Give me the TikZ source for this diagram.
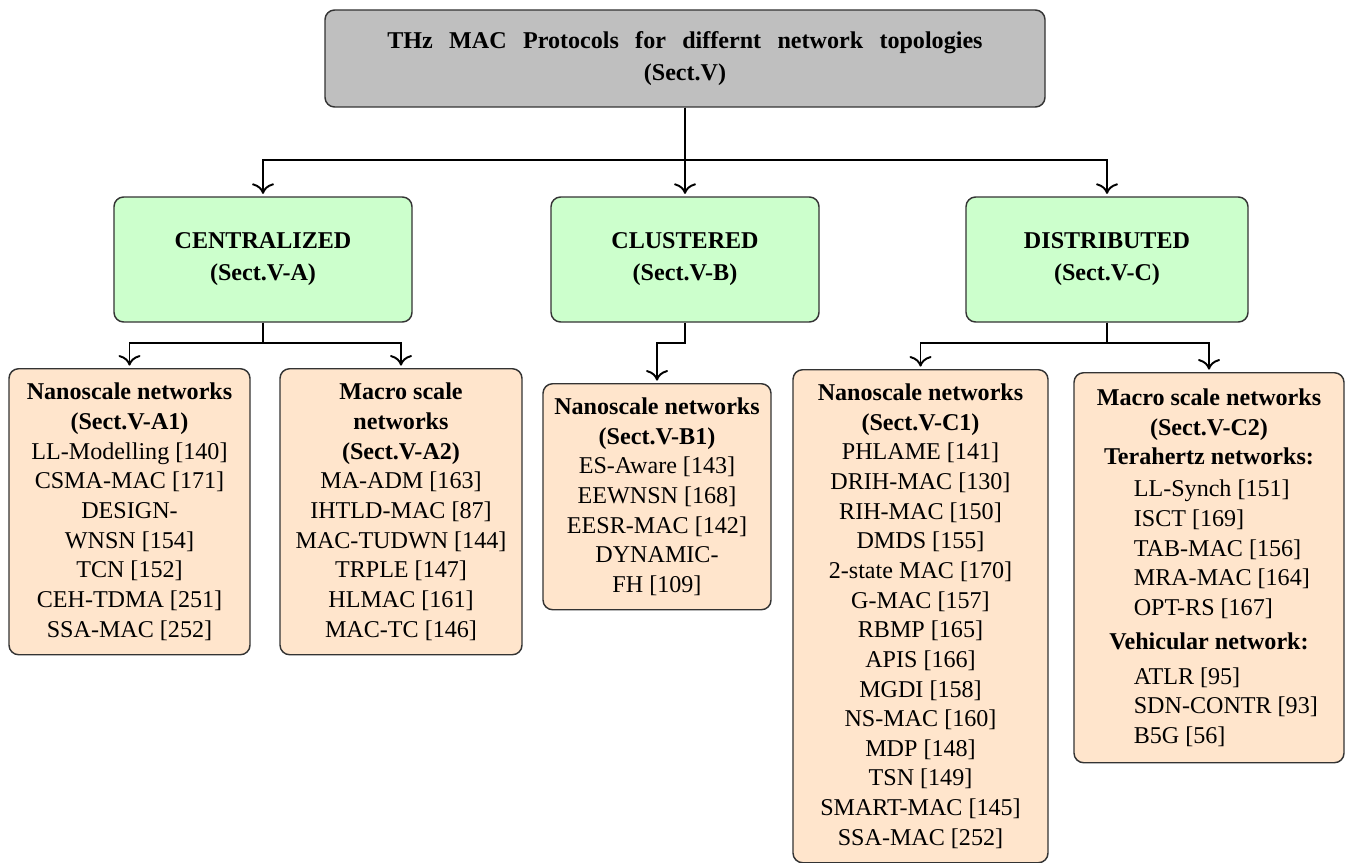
\documentclass[tikz,border=0pt]{standalone}
\usepackage{fontspec}
\setmainfont{Liberation Serif}
\usepackage{tikz}
\usetikzlibrary{arrows.meta}

\newcommand{\pxu}{0.415pt}
\newcommand{\thzitem}[1]{\hspace*{16.6pt}\makebox[79pt][l]{#1}}

\begin{document}
\begin{tikzpicture}[x=\pxu,y=-\pxu,->,>={To[scale=1.3]},shorten >=1pt,thick,
    font=\fontsize{10}{12.3}\selectfont,
    topbox/.style={draw=black!80,semithick,fill=gray!50,rounded corners=4pt,align=center,
      font=\fontsize{10}{13.3}\selectfont\bfseries,minimum width=720*\pxu,minimum height=97*\pxu},
    secbox/.style={draw=black!80,semithick,fill=green!20,rounded corners=4pt,align=center,
      font=\fontsize{10}{13.3}\selectfont\bfseries,minimum height=125*\pxu},
    leafbox/.style={draw=black!80,semithick,fill=orange!20,rounded corners=4pt,align=center,
      anchor=north}]
  \useasboundingbox (0,0) rectangle (1348,863);

  % root and the three topologies
  \node[topbox] (root) at (685,58.5)
    {\makebox[247pt][s]{THz MAC Protocols for differnt network topologies}\\(Sect.V)};
  \node[secbox,minimum width=298*\pxu] (cent) at (263,259.5) {CENTRALIZED\\(Sect.V-A)};
  \node[secbox,minimum width=268*\pxu] (clus) at (685,259.5) {CLUSTERED\\(Sect.V-B)};
  \node[secbox,minimum width=282*\pxu] (dist) at (1107,259.5) {DISTRIBUTED\\(Sect.V-C)};

  % protocol lists
  \node[leafbox,minimum width=241*\pxu,minimum height=286*\pxu] (a1) at (129.5,368)
    {\textbf{Nanoscale networks}\\\textbf{(Sect.V-A1)}\\LL-Modelling [140]\\CSMA-MAC [171]\\
     DESIGN-\\WNSN [154]\\TCN [152]\\CEH-TDMA [251]\\SSA-MAC [252]};
  \node[leafbox,minimum width=242*\pxu,minimum height=286*\pxu] (a2) at (401,368)
    {\textbf{Macro scale}\\\textbf{networks}\\\textbf{(Sect.V-A2)}\\MA-ADM [163]\\IHTLD-MAC [87]\\
     MAC-TUDWN [144]\\TRPLE [147]\\HLMAC [161]\\MAC-TC [146]};
  \node[leafbox,minimum width=228*\pxu,minimum height=226*\pxu] (b1) at (657,383)
    {\textbf{Nanoscale networks}\\\textbf{(Sect.V-B1)}\\ES-Aware [143]\\EEWNSN [168]\\
     EESR-MAC [142]\\DYNAMIC-\\FH [109]};
  \node[leafbox,minimum width=255*\pxu,minimum height=493*\pxu] (c1) at (920.5,369)
    {\textbf{Nanoscale networks}\\\textbf{(Sect.V-C1)}\\PHLAME [141]\\DRIH-MAC [130]\\
     RIH-MAC [150]\\DMDS [155]\\2-state MAC [170]\\G-MAC [157]\\RBMP [165]\\APIS [166]\\
     MGDI [158]\\NS-MAC [160]\\MDP [148]\\TSN [149]\\SMART-MAC [145]\\SSA-MAC [252]};
  \node[leafbox,minimum width=270*\pxu,minimum height=390*\pxu] (c2) at (1209,372)
    {\textbf{Macro scale networks}\\\textbf{(Sect.V-C2)}\\\textbf{Terahertz networks:}\\[1pt]
     \thzitem{LL-Synch [151]}\\\thzitem{ISCT [169]}\\\thzitem{TAB-MAC [156]}\\
     \thzitem{MRA-MAC [164]}\\\thzitem{OPT-RS [167]}\\[2pt]
     \textbf{Vehicular network:}\\[2pt]
     \thzitem{ATLR [95]}\\\thzitem{SDN-CONTR [93]}\\\thzitem{B5G [56]}};

  % connectors
  \draw (root.south) -- (clus.north);
  \draw (root.south) -- ++(0,52) -| (cent.north);
  \draw (root.south) -- ++(0,52) -| (dist.north);
  \draw (cent.south) -- ++(0,20) -| (a1.north);
  \draw (cent.south) -- ++(0,20) -| (a2.north);
  \draw (clus.south) -- ++(0,20) -| (b1.north);
  \draw (dist.south) -- ++(0,20) -| (c1.north);
  \draw (dist.south) -- ++(0,20) -| (c2.north);
\end{tikzpicture}
\end{document}
